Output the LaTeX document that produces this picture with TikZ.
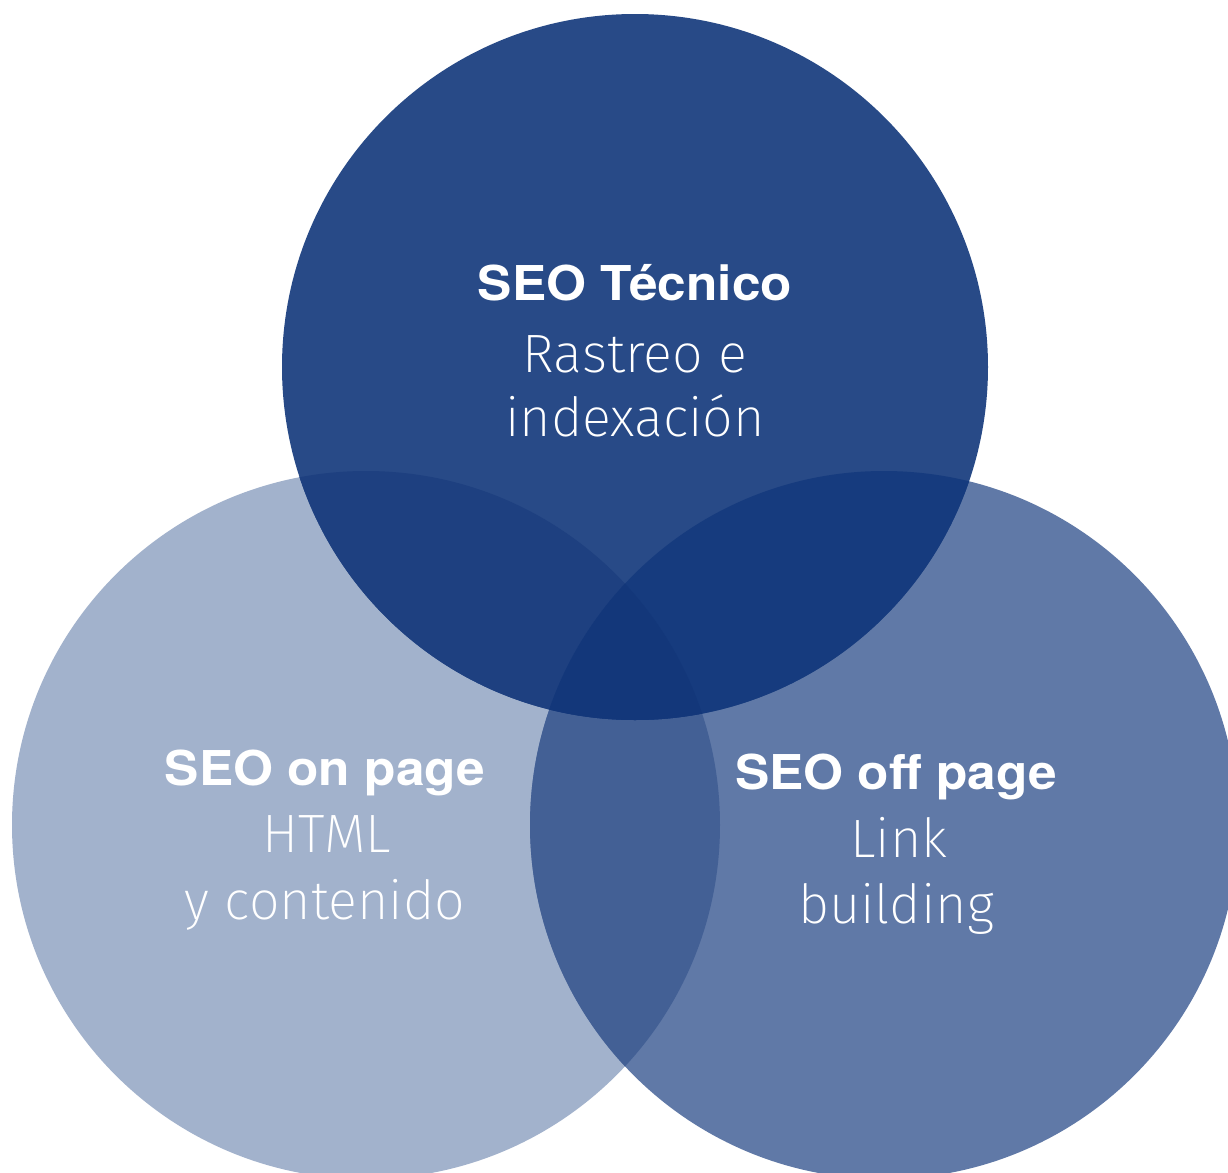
\documentclass[tikz,border=0pt]{standalone}
\usepackage{fontspec}
\IfFontExistsTF{Fira Sans ExtraLight}{\newfontfamily\lightf{Fira Sans ExtraLight}}{%
  \IfFontExistsTF{Fira Sans Light}{\newfontfamily\lightf{Fira Sans Light}}{%
    \newfontfamily\lightf{Liberation Sans}}}
\newfontfamily\boldf{TeX Gyre Heros}[FakeStretch=1.07]
\definecolor{cT}{HTML}{284A87}
\definecolor{cL}{HTML}{A2B2CC}
\definecolor{cR}{HTML}{6079A7}
\definecolor{cTL}{HTML}{1E4080}
\definecolor{cTR}{HTML}{163B7E}
\definecolor{cLR}{HTML}{436095}
\definecolor{cTLR}{HTML}{13377A}
\tikzset{
  boldtxt/.style={text=white, inner sep=0pt, anchor=base, font=\boldf\bfseries\fontsize{24}{24}\selectfont},
  lighttxt/.style={text=white, inner sep=0pt, anchor=base, font=\lightf\fontsize{27}{27}\selectfont}
}
\begin{document}
\begin{tikzpicture}[x=0.5pt,y=-0.5pt]
\useasboundingbox (0,0) rectangle (1228,1173);
\fill[white] (0,0) rectangle (1228,1173);
\def\circT{(635,367) circle[radius=176.5pt]}
\def\circL{(366,825) circle[radius=177pt]}
\def\circR{(884,825) circle[radius=177pt]}
\fill[cL] \circL;
\fill[cR] \circR;
\fill[cT] \circT;
\begin{scope}\clip \circL; \fill[cLR] \circR; \end{scope}
\begin{scope}\clip \circT; \fill[cTL] \circL; \end{scope}
\begin{scope}\clip \circT; \fill[cTR] \circR; \end{scope}
\begin{scope}\clip \circT; \clip \circL; \fill[cTLR] \circR; \end{scope}
% top
\node[boldtxt] (t1) at (635,300) {SEO Técnico};
\node[lighttxt] (t2) at (635,372) {Rastreo e};
\node[lighttxt] (t3) at (635,436) {indexación};
% left
\node[boldtxt] (l1) at (325,785) {SEO on page};
\node[lighttxt] (l2) at (327,852) {HTML};
\node[lighttxt] (l3) at (325,919) {y contenido};
% right
\node[boldtxt] (r1) at (896,789) {SEO off page};
\node[lighttxt] (r2) at (899,857) {Link};
\node[lighttxt] (r3) at (896,923) {building};
\end{tikzpicture}
\end{document}
